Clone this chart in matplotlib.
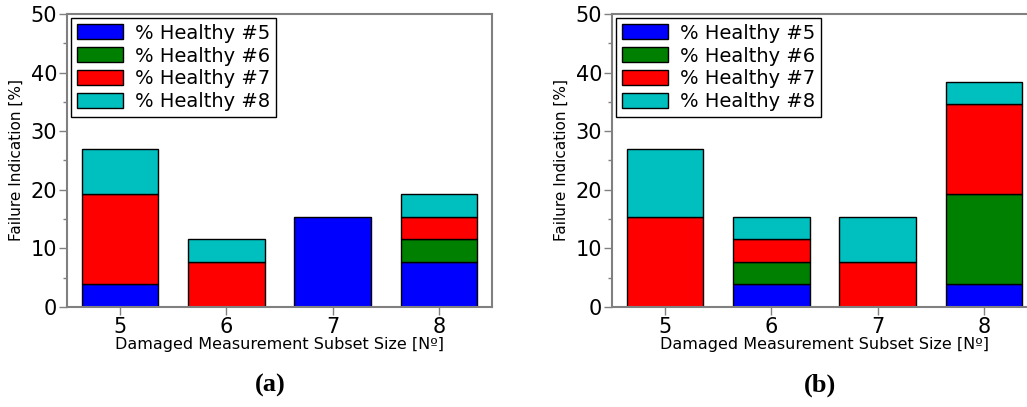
import matplotlib.pyplot as plt
from matplotlib.ticker import MultipleLocator
import numpy as np

subset_sizes = [5, 6, 7, 8]
legend_labels = ["% Healthy #5", "% Healthy #6", "% Healthy #7", "% Healthy #8"]
colors = ["#0000ff", "#008000", "#ff0000", "#00bfbf"]

# (a) stacked shares per subset size
a_h5 = [3.85, 0.0, 15.38, 7.69]
a_h6 = [0.0, 0.0, 0.0, 3.85]
a_h7 = [15.38, 7.69, 0.0, 3.85]
a_h8 = [7.69, 3.85, 0.0, 3.85]

# (b)
b_h5 = [0.0, 3.85, 0.0, 3.85]
b_h6 = [0.0, 3.85, 0.0, 15.38]
b_h7 = [15.38, 3.85, 7.69, 15.38]
b_h8 = [11.54, 3.85, 7.69, 3.85]

panels = [("(a)", [a_h5, a_h6, a_h7, a_h8]), ("(b)", [b_h5, b_h6, b_h7, b_h8])]

fig = plt.figure(figsize=(10.27, 4.07), dpi=100)
lefts = [0.0652, 0.5959]
tag_x = [0.263, 0.798]

for (tag, series), left, tx in zip(panels, lefts, tag_x):
    ax = fig.add_axes([left, 0.2457, 0.4138, 0.72])
    x = np.array(subset_sizes)
    bottom = np.zeros(len(subset_sizes))
    for vals, col, lab in zip(series, colors, legend_labels):
        vals = np.array(vals)
        m = vals > 0
        ax.bar(x[m], vals[m], width=0.72, bottom=bottom[m], color=col,
               edgecolor="black", linewidth=1.0)
        ax.bar([0], [0], color=col, edgecolor="black", linewidth=1.0, label=lab)
        bottom += vals
    ax.set_xlim(4.5, 8.5)
    ax.set_ylim(0, 50)
    ax.set_xticks(subset_sizes)
    ax.yaxis.set_major_locator(MultipleLocator(10))
    ax.yaxis.set_minor_locator(MultipleLocator(5))
    for sp in ax.spines.values():
        sp.set_color("#808080")
        sp.set_linewidth(1.5)
    ax.tick_params(axis="both", which="major", labelsize=15, color="#808080",
                   length=6, width=1, direction="out", pad=1)
    ax.tick_params(axis="y", which="minor", color="#808080", length=3,
                   width=1, direction="out")
    ax.tick_params(axis="x", top=False)
    ax.tick_params(axis="y", right=False)
    ax.set_ylabel("Failure Indication [%]", fontsize=11, labelpad=5)
    ax.set_xlabel("Damaged Measurement Subset Size [Nº]", fontsize=11.5, labelpad=0)
    leg = ax.legend(loc="upper left", fontsize=14, handlelength=2.4,
                    handleheight=0.8, borderaxespad=0.2, labelspacing=0.2,
                    handletextpad=0.6, fancybox=False, framealpha=1,
                    borderpad=0.3)
    leg.get_frame().set_edgecolor("black")
    leg.get_frame().set_linewidth(1.0)
    fig.text(tx, 0.053, tag, ha="center", va="center",
             fontsize=19, fontweight="bold", family="Liberation Serif")

fig.savefig("out.png", dpi=100)
